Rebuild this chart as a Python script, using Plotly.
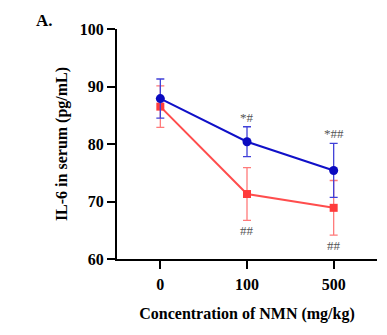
import plotly.graph_objects as go

doses = ["0", "100", "500"]
blue_mean = [87.9, 80.4, 75.4]
blue_err = [3.4, 2.6, 4.7]
red_mean = [86.5, 71.3, 68.9]
red_err = [3.6, 4.6, 4.75]
blue_labels = ["", "*#", "*##"]
red_labels = ["", "##", "##"]

FONT = "Liberation Serif, Times New Roman, serif"

fig = go.Figure()
fig.add_trace(go.Scatter(
    x=doses, y=red_mean, mode="lines+markers",
    line=dict(color="#ff4d4d", width=2),
    marker=dict(symbol="square", size=8, color="#ff3b3b"),
    error_y=dict(type="data", array=red_err, color="#ff7a7a", thickness=1.3, width=4),
    showlegend=False,
))
fig.add_trace(go.Scatter(
    x=doses, y=blue_mean, mode="lines+markers",
    line=dict(color="#1010c8", width=2),
    marker=dict(symbol="circle", size=9, color="#0a0ac0"),
    error_y=dict(type="data", array=blue_err, color="#4040d8", thickness=1.3, width=4),
    showlegend=False,
))

for i, d in enumerate(doses):
    if blue_labels[i]:
        fig.add_annotation(x=i, y=blue_mean[i] + blue_err[i], text=blue_labels[i],
                           xref="x", yref="y",
                           showarrow=False, yanchor="bottom", yshift=0,
                           font=dict(family=FONT, size=13, color="#555555"))
    if red_labels[i]:
        fig.add_annotation(x=i, y=red_mean[i] - red_err[i], text=red_labels[i],
                           xref="x", yref="y",
                           showarrow=False, yanchor="top", yshift=-1,
                           font=dict(family=FONT, size=13, color="#555555"))

fig.add_annotation(x=-0.28, y=1.035, xref="paper", yref="paper", text="<b>A.</b>",
                   xanchor="center", yanchor="middle",
                   showarrow=False, font=dict(family=FONT, size=17, color="black"))

fig.update_layout(
    width=387, height=335,
    margin=dict(l=117, r=10, t=29, b=76),
    paper_bgcolor="white", plot_bgcolor="white",
    font=dict(family=FONT, color="black"),
    xaxis=dict(
        type="category", range=[-0.5, 2.5],
        showline=True, linecolor="black", linewidth=2,
        ticks="outside", ticklen=8, tickwidth=2, tickcolor="black",
        ticklabelstandoff=2,
        showgrid=False, zeroline=False,
        tickfont=dict(family=FONT, size=16, color="black", weight="bold"),
        title=dict(text="<b>Concentration of NMN (mg/kg)</b>",
                   font=dict(family=FONT, size=16, color="black"), standoff=16),
    ),
    yaxis=dict(
        range=[60, 100], tickvals=[60, 70, 80, 90, 100],
        showline=True, linecolor="black", linewidth=2,
        ticks="outside", ticklen=8, tickwidth=2, tickcolor="black",
        showgrid=False, zeroline=False,
        tickfont=dict(family=FONT, size=16, color="black", weight="bold"),
        title=dict(text="<b>IL-6 in serum (pg/mL)</b>",
                   font=dict(family=FONT, size=16, color="black"), standoff=8),
    ),
)

fig.write_html("out.html")
